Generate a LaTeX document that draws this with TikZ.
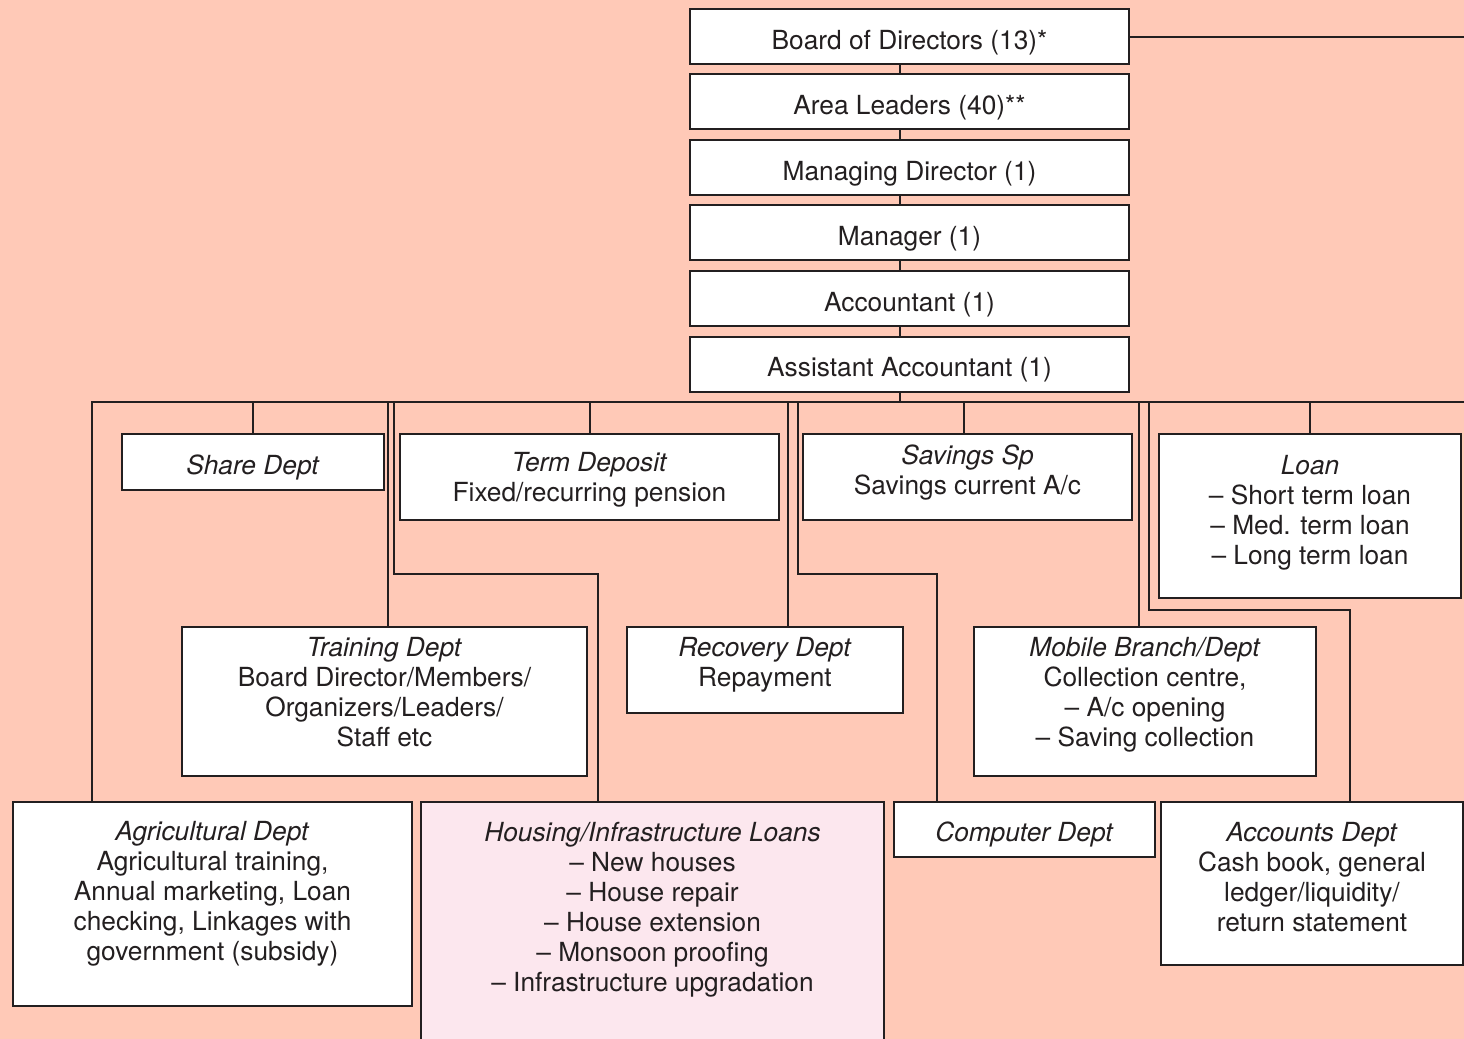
\documentclass[tikz,border=0pt]{standalone}
\usepackage{fontspec}
\setmainfont{TeX Gyre Heros}
\usetikzlibrary{positioning}
\definecolor{chartbg}{RGB}{255,201,183}
\definecolor{housefill}{RGB}{252,231,238}
\definecolor{chartline}{RGB}{35,31,32}

\begin{document}
\begin{tikzpicture}[x=0.5pt,y=-0.5pt,color=chartline,line width=1pt,
        font=\fontsize{13.15}{15}\selectfont,
        post/.style={draw,fill=white,minimum width=219.5pt,
          minimum height=27.5pt,inner sep=2pt,text height=12.5pt,text depth=0pt},
        dept/.style={draw,fill=white,align=center,inner sep=2pt},
        lift/.style={text depth=#1}]
        \fill[chartbg] (0,0) rectangle (1464,1039);
        \useasboundingbox (0,0) rectangle (1464,1039);
        \clip (0,0) rectangle (1464,1039);
        % chain of posts
        \node[post] (board) at (909.5,36.5) {Board of Directors (13)*};
        \node[post] (area) at (909.5,101.5) {Area Leaders (40)**};
        \node[post] (md) at (909.5,167.5) {Managing Director (1)};
        \node[post] (mgr) at (909.5,232.5) {Manager (1)};
        \node[post] (acct) at (909.5,298.5) {Accountant (1)};
        \node[post] (asst) at (909.5,364) {Assistant Accountant (1)};
        % first row
        \node[dept,minimum width=131pt,minimum height=28pt,text height=12pt,lift=0pt] (share) at (253,462)
          {\textit{Share Dept}};
        \node[dept,minimum width=189.5pt,minimum height=43pt,lift=0pt] (term) at (589.5,477)
          {\textit{Term Deposit}\\Fixed/recurring pension};
        \node[dept,minimum width=164.5pt,minimum height=43pt,lift=7.8pt] (savings) at (967.5,477)
          {\textit{Savings Sp}\\Savings current A/c};
        \node[dept,minimum width=151pt,minimum height=82pt,lift=5.8pt] (loan) at (1310,516)
          {\textit{Loan}\\-- Short term loan\\-- Med. term loan\\-- Long term loan};
        % second row
        \node[dept,minimum width=202.5pt,minimum height=74.5pt,lift=10pt] (training) at (384.5,701.5)
          {\textit{Training Dept}\\Board Director/Members/\\Organizers/Leaders/\\Staff etc};
        \node[dept,minimum width=138pt,minimum height=43pt,lift=7.8pt] (recovery) at (765,670)
          {\textit{Recovery Dept}\\Repayment};
        \node[dept,minimum width=171pt,minimum height=74.5pt,lift=9.3pt] (mobile) at (1145,701.5)
          {\textit{Mobile Branch/Dept}\\Collection centre,\\-- A/c opening\\-- Saving collection};
        % third row
        \node[dept,minimum width=199.5pt,minimum height=102pt,lift=12.8pt] (agri) at (212.5,904)
          {\textit{Agricultural Dept}\\Agricultural training,\\Annual marketing, Loan\\checking, Linkages with\\government (subsidy)};
        \node[dept,fill=housefill,minimum width=231.5pt,minimum height=129pt,lift=23.8pt] (housing) at (652.5,931)
          {\textit{Housing/Infrastructure Loans}\\-- New houses\\-- House repair\\-- House extension\\-- Monsoon proofing\\-- Infrastructure upgradation};
        \node[dept,minimum width=130.5pt,minimum height=27.5pt,text height=12pt,lift=0pt] (computer) at (1024.5,829.5)
          {\textit{Computer Dept}};
        \node[dept,minimum width=151pt,minimum height=81.5pt,lift=6.5pt] (accounts) at (1312,883.5)
          {\textit{Accounts Dept}\\Cash book, general\\ledger/liquidity/\\return statement};
        % spine and bus
        \coordinate (spine) at (900,0);
        \coordinate (busL) at (92,401.5);
        \coordinate (busR) at (1464,401.5);
        \draw (board.east) -- (board.east -| busR);
        \foreach \a/\b in {board/area,area/md,md/mgr,mgr/acct,acct/asst}
          \draw (\a.south -| spine) -- (\b.north -| spine);
        \draw (asst.south -| spine) -- (spine |- busL);
        \draw (busL |- agri.north) -- (busL) -- (busR);
        % taps on the bus
        \coordinate (tTrain) at (388,401.5);
        \coordinate (tHouse) at (394,401.5);
        \coordinate (tRec) at (788,401.5);
        \coordinate (tComp) at (797.5,401.5);
        \coordinate (tSav) at (964,401.5);
        \coordinate (tMob) at (1139,401.5);
        \coordinate (tAcct) at (1148.5,401.5);
        \coordinate (jHouse) at (598,573.5);
        \coordinate (jComp) at (937,573.5);
        \coordinate (jAcct) at (1350,609.5);
        \draw (share.north) -- (share.north |- busL);
        \draw (term.north) -- (term.north |- busL);
        \draw (loan.north) -- (loan.north |- busL);
        \draw (tSav) -- (tSav |- savings.north);
        \draw (tTrain) -- (tTrain |- training.north);
        \draw (tRec) -- (tRec |- recovery.north);
        \draw (tMob) -- (tMob |- mobile.north);
        \draw (tHouse) |- (jHouse) -- (jHouse |- housing.north);
        \draw (tComp) |- (jComp) -- (jComp |- computer.north);
        \draw (tAcct) |- (jAcct) -- (jAcct |- accounts.north);
      \end{tikzpicture}
\end{document}
